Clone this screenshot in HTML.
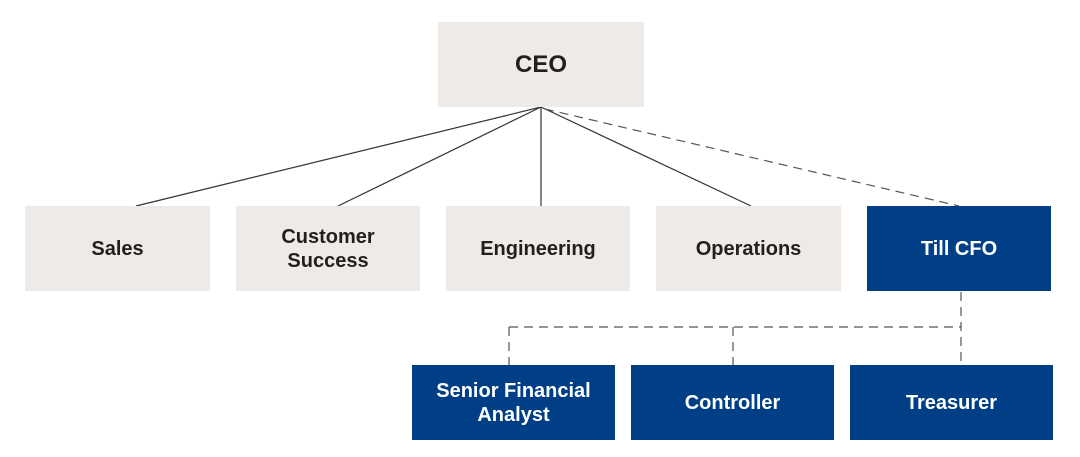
<!DOCTYPE html>
<html><head><style>
body{margin:0;background:#fff;width:1080px;height:457px;position:relative;overflow:hidden;font-family:"Liberation Sans",sans-serif;}
.b{position:absolute;display:flex;align-items:center;justify-content:center;text-align:center;font-weight:bold;font-size:20px;line-height:24px;}
.g{background:#eeeae7;color:#231f1d;}
.n{background:#003f86;color:#fff;}
svg{position:absolute;left:0;top:0;}
</style></head><body>
<svg width="1080" height="457">
<g stroke="#333" stroke-width="1.2" fill="none">
<line x1="541" y1="107" x2="136" y2="206"/>
<line x1="541" y1="107" x2="338" y2="206"/>
<line x1="541" y1="107" x2="541" y2="206"/>
<line x1="541" y1="107" x2="751" y2="206"/>
<g stroke-dasharray="9,6" stroke="#555">
<line x1="545" y1="109" x2="959" y2="206"/>
<line x1="961" y1="292" x2="961" y2="365"/>
<line x1="509" y1="327" x2="961" y2="327"/>
<line x1="509" y1="327" x2="509" y2="365"/>
<line x1="733" y1="327" x2="733" y2="365"/>
</g></g></svg>
<div class="b g" style="left:438px;top:22px;width:206px;height:85px;font-size:24px;">CEO</div>
<div class="b g" style="left:25px;top:206px;width:185px;height:85px;">Sales</div>
<div class="b g" style="left:236px;top:206px;width:184px;height:85px;">Customer<br>Success</div>
<div class="b g" style="left:446px;top:206px;width:184px;height:85px;">Engineering</div>
<div class="b g" style="left:656px;top:206px;width:185px;height:85px;">Operations</div>
<div class="b n" style="left:867px;top:206px;width:184px;height:85px;">Till CFO</div>
<div class="b n" style="left:412px;top:365px;width:203px;height:75px;">Senior Financial<br>Analyst</div>
<div class="b n" style="left:631px;top:365px;width:203px;height:75px;">Controller</div>
<div class="b n" style="left:850px;top:365px;width:203px;height:75px;">Treasurer</div>
</body></html>
